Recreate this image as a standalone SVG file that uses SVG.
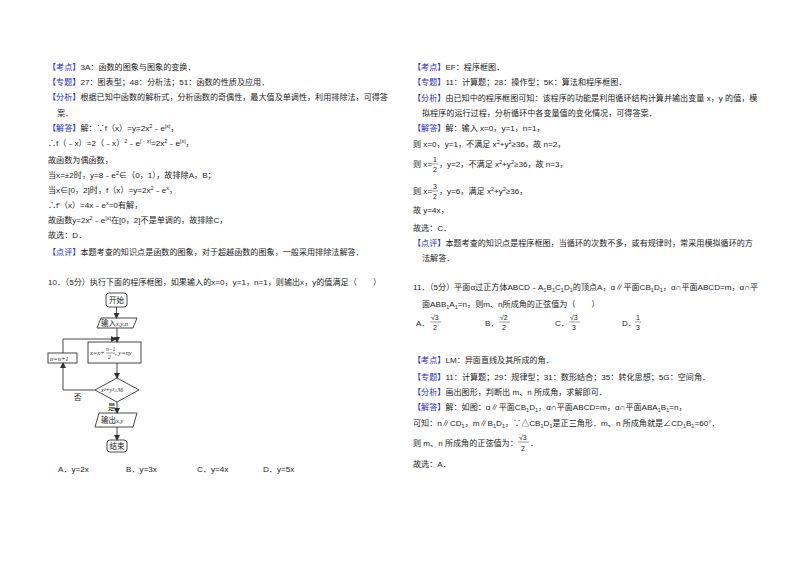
<svg xmlns="http://www.w3.org/2000/svg" width="800" height="565" viewBox="0 0 800 565">
<defs>
<style>
text{font-family:"Liberation Sans","Noto Sans CJK SC",sans-serif;font-size:8.1px;fill:#222}
.b{fill:#2a2ad0}
.s{font-size:5.5px}
.f{font-family:"Liberation Serif","Noto Sans CJK SC",serif;font-size:6.5px;font-style:italic}
.fc{font-family:"Noto Sans CJK SC",sans-serif;font-size:7.5px}
.q{font-size:7px}
.n{fill:none;stroke:#333;stroke-width:0.9}
.c{fill:none;stroke:#333;stroke-width:0.9}
.l{stroke:#333;stroke-width:0.5}
</style>
<marker id="a" markerWidth="6" markerHeight="6" refX="5" refY="3" orient="auto" markerUnits="userSpaceOnUse"><path d="M0,0L6,3L0,6z" fill="#333"/></marker>
</defs>
<rect width="800" height="565" fill="#fff"/>
<!-- left column -->
<text x="48" y="70"><tspan class="b">【考点】</tspan>3A：函数的图象与图象的变换．</text>
<text x="48" y="85"><tspan class="b">【专题】</tspan>27：图表型；48：分析法；51：函数的性质及应用．</text>
<text x="48" y="100"><tspan class="b">【分析】</tspan>根据已知中函数的解析式，分析函数的奇偶性，最大值及单调性，利用排除法，可得答</text>
<text x="57" y="116">案．</text>
<text x="48" y="131"><tspan class="b">【解答】</tspan>解：∵f（x）=y=2x<tspan class="s" dy="-3">2</tspan><tspan dy="3">﹣e</tspan><tspan class="s" dy="-3">|x|</tspan><tspan dy="3">，</tspan></text>
<text x="48" y="146">∴f（﹣x）=2（﹣x）<tspan class="s" dy="-3">2</tspan><tspan dy="3">﹣e</tspan><tspan class="s" dy="-3">|﹣x|</tspan><tspan dy="3">=2x</tspan><tspan class="s" dy="-3">2</tspan><tspan dy="3">﹣e</tspan><tspan class="s" dy="-3">|x|</tspan><tspan dy="3">，</tspan></text>
<text x="48" y="163">故函数为偶函数，</text>
<text x="48" y="178">当x=±2时，y=8﹣e<tspan class="s" dy="-3">2</tspan><tspan dy="3">∈（0，1），故排除A，B；</tspan></text>
<text x="48" y="193">当x∈[0，2]时，f（x）=y=2x<tspan class="s" dy="-3">2</tspan><tspan dy="3">﹣e</tspan><tspan class="s" dy="-3">x</tspan><tspan dy="3">，</tspan></text>
<text x="48" y="208">∴f′（x）=4x﹣e<tspan class="s" dy="-3">x</tspan><tspan dy="3">=0有解，</tspan></text>
<text x="48" y="223">故函数y=2x<tspan class="s" dy="-3">2</tspan><tspan dy="3">﹣e</tspan><tspan class="s" dy="-3">|x|</tspan><tspan dy="3">在[0，2]不是单调的，故排除C，</tspan></text>
<text x="48" y="238">故选：D．</text>
<text x="48" y="255"><tspan class="b">【点评】</tspan>本题考查的知识点是函数的图象，对于超越函数的图象，一般采用排除法解答．</text>
<text x="48" y="285">10．（5分）执行下面的程序框图，如果输入的x=0，y=1，n=1，则输出x，y的值满足（　　）</text>
<!-- flowchart -->
<g id="start"><rect x="106" y="293" width="21" height="14" rx="3" class="n"/><text x="116.5" y="303" class="fc" text-anchor="middle">开始</text></g>
<g id="input"><path d="M101,318H137L133,328H97Z" class="n"/><text x="101" y="326" class="fc">输入<tspan class="f">x,y,n</tspan></text></g>
<g id="proc"><rect x="88" y="342" width="53" height="21" class="n"/><text x="90" y="355" class="f">x=x+</text><text x="106" y="351" class="f" style="font-size:5.5px">n−1</text><line x1="106" y1="353" x2="115" y2="353" class="l"/><text x="108" y="359" class="f" style="font-size:5.5px">2</text><text x="115" y="355" class="f">, y=ny</text></g>
<g id="inc"><rect x="48" y="353" width="29" height="10" class="n"/><text x="50" y="361" class="f">n=n+1</text></g>
<g id="cond"><path d="M117,378L139,390L117,402L95,390Z" class="n"/><text x="101" y="392" class="f" style="font-size:6px">x²+y²≥36</text></g>
<g id="output"><path d="M99,413H137L133,427H95Z" class="n"/><text x="101" y="423" class="fc">输出<tspan class="f">x,y</tspan></text></g>
<g id="end"><rect x="107" y="440" width="20" height="12" rx="3" class="n"/><text x="117" y="449" class="fc" text-anchor="middle">结束</text></g>
<g id="connectors">
<path d="M116.5,307V318" class="c" marker-end="url(#a)"/>
<path d="M117,328V342" class="c" marker-end="url(#a)"/>
<path d="M117,363V378" class="c" marker-end="url(#a)"/>
<path d="M117,402V413" class="c" marker-end="url(#a)"/>
<path d="M117,427V440" class="c" marker-end="url(#a)"/>
<path d="M95,390H63V363" class="c" marker-end="url(#a)"/>
<path d="M63,353V339H116" class="c" marker-end="url(#a)"/>
<text x="74" y="400" class="fc">否</text>
<text x="108" y="410" class="fc">是</text>
</g>
<text x="58" y="472">A．y=2x</text>
<text x="126" y="472">B．y=3x</text>
<text x="197" y="472">C．y=4x</text>
<text x="263" y="472">D．y=5x</text>
<!-- right column -->
<text x="413" y="70"><tspan class="b">【考点】</tspan>EF：程序框图．</text>
<text x="413" y="85"><tspan class="b">【专题】</tspan>11：计算题；28：操作型；5K：算法和程序框图．</text>
<text x="413" y="101"><tspan class="b">【分析】</tspan>由已知中的程序框图可知：该程序的功能是利用循环结构计算并输出变量 x，y 的值，模</text>
<text x="422" y="116">拟程序的运行过程，分析循环中各变量值的变化情况，可得答案．</text>
<text x="413" y="131"><tspan class="b">【解答】</tspan>解：输入 x=0，y=1，n=1，</text>
<text x="413" y="147">则 x=0，y=1，不满足 x<tspan class="s" dy="-3">2</tspan><tspan dy="3">+y</tspan><tspan class="s" dy="-3">2</tspan><tspan dy="3">≥36，故 n=2，</tspan></text>
<text x="413" y="167">则 x=</text><text x="433" y="162" class="q">1</text><line x1="432" y1="164" x2="438" y2="164" class="l"/><text x="433" y="172" class="q">2</text><text x="439" y="167">，y=2，不满足 x<tspan class="s" dy="-3">2</tspan><tspan dy="3">+y</tspan><tspan class="s" dy="-3">2</tspan><tspan dy="3">≥36，故 n=3，</tspan></text>
<text x="413" y="194">则 x=</text><text x="433" y="189" class="q">3</text><line x1="432" y1="191" x2="438" y2="191" class="l"/><text x="433" y="199" class="q">2</text><text x="439" y="194">，y=6，满足 x<tspan class="s" dy="-3">2</tspan><tspan dy="3">+y</tspan><tspan class="s" dy="-3">2</tspan><tspan dy="3">≥36，</tspan></text>
<text x="413" y="213">故 y=4x，</text>
<text x="413" y="231">故选：C．</text>
<text x="413" y="246"><tspan class="b">【点评】</tspan>本题考查的知识点是程序框图，当循环的次数不多，或有规律时，常采用模拟循环的方</text>
<text x="422" y="261">法解答．</text>
<text x="413" y="290">11．（5分）平面α过正方体ABCD﹣A<tspan class="s" dy="2">1</tspan><tspan dy="-2">B</tspan><tspan class="s" dy="2">1</tspan><tspan dy="-2">C</tspan><tspan class="s" dy="2">1</tspan><tspan dy="-2">D</tspan><tspan class="s" dy="2">1</tspan><tspan dy="-2">的顶点A，α∥平面CB</tspan><tspan class="s" dy="2">1</tspan><tspan dy="-2">D</tspan><tspan class="s" dy="2">1</tspan><tspan dy="-2">，α∩平面ABCD=m，α∩平</tspan></text>
<text x="422" y="307">面ABB<tspan class="s" dy="2">1</tspan><tspan dy="-2">A</tspan><tspan class="s" dy="2">1</tspan><tspan dy="-2">=n，则m、n所成角的正弦值为（　　）</tspan></text>
<g>
<text x="416" y="326">A．</text><text x="431" y="320" class="q">√3</text><line x1="430" y1="322" x2="441" y2="322" class="l"/><text x="433" y="330" class="q">2</text>
<text x="485" y="326">B．</text><text x="500" y="320" class="q">√2</text><line x1="499" y1="322" x2="510" y2="322" class="l"/><text x="502" y="330" class="q">2</text>
<text x="555" y="326">C．</text><text x="570" y="320" class="q">√3</text><line x1="569" y1="322" x2="580" y2="322" class="l"/><text x="572" y="330" class="q">3</text>
<text x="622" y="326">D．</text><text x="636" y="320" class="q">1</text><line x1="635" y1="322" x2="641" y2="322" class="l"/><text x="636" y="330" class="q">3</text>
</g>
<text x="413" y="363"><tspan class="b">【考点】</tspan>LM：异面直线及其所成的角．</text>
<text x="413" y="380"><tspan class="b">【专题】</tspan>11：计算题；29：规律型；31：数形结合；35：转化思想；5G：空间角．</text>
<text x="413" y="395"><tspan class="b">【分析】</tspan>画出图形，判断出 m、n 所成角，求解即可．</text>
<text x="413" y="410"><tspan class="b">【解答】</tspan>解：如图：α∥平面CB<tspan class="s" dy="2">1</tspan><tspan dy="-2">D</tspan><tspan class="s" dy="2">1</tspan><tspan dy="-2">，α∩平面ABCD=m，α∩平面ABA</tspan><tspan class="s" dy="2">1</tspan><tspan dy="-2">B</tspan><tspan class="s" dy="2">1</tspan><tspan dy="-2">=n，</tspan></text>
<text x="413" y="426">可知：n∥CD<tspan class="s" dy="2">1</tspan><tspan dy="-2">，m∥B</tspan><tspan class="s" dy="2">1</tspan><tspan dy="-2">D</tspan><tspan class="s" dy="2">1</tspan><tspan dy="-2">，∵△CB</tspan><tspan class="s" dy="2">1</tspan><tspan dy="-2">D</tspan><tspan class="s" dy="2">1</tspan><tspan dy="-2">是正三角形．m、n 所成角就是∠CD</tspan><tspan class="s" dy="2">1</tspan><tspan dy="-2">B</tspan><tspan class="s" dy="2">1</tspan><tspan dy="-2">=60°．</tspan></text>
<text x="413" y="446">则 m、n 所成角的正弦值为：</text><text x="519" y="440" class="q">√3</text><line x1="518" y1="442" x2="529" y2="442" class="l"/><text x="521" y="451" class="q">2</text><text x="530" y="446">．</text>
<text x="413" y="467">故选：A．</text>
</svg>
